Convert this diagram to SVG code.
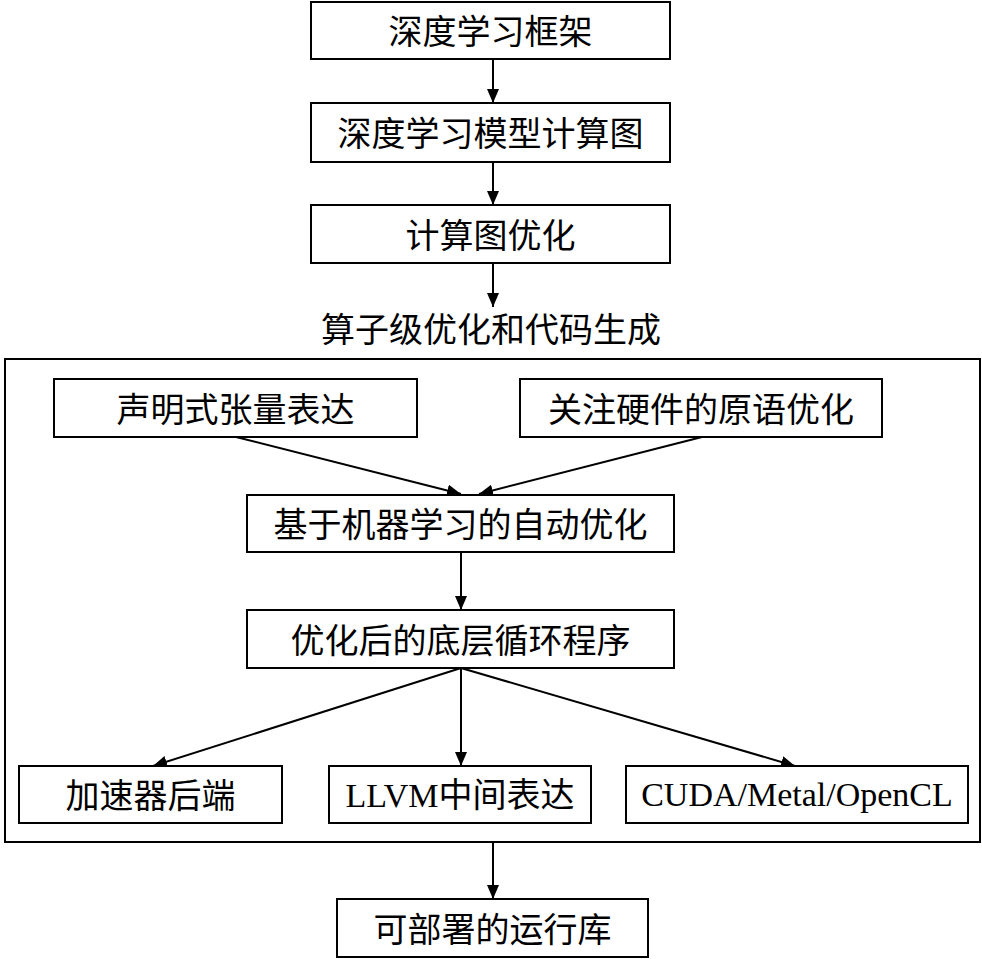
<svg xmlns="http://www.w3.org/2000/svg" width="982" height="959" viewBox="0 0 982 959">
<defs>
<style>
.box{fill:#fff;stroke:#000;stroke-width:2}
.t{font-family:"Liberation Serif","Noto Sans CJK SC",serif;font-size:34px;fill:#000;text-anchor:middle}
.c{stroke:#000;stroke-width:2;fill:none;marker-end:url(#ah)}
</style>
<marker id="ah" markerUnits="userSpaceOnUse" markerWidth="14" markerHeight="12" refX="14" refY="6" orient="auto">
<path d="M0,0 L14,6 L0,12 z" fill="#000"/>
</marker>
</defs>
<rect x="0" y="0" width="982" height="959" fill="#fff"/>
<g id="container"><rect class="box" x="5" y="359" width="975" height="483"/></g>
<g id="title"><text class="t" x="491" y="342">算子级优化和代码生成</text></g>
<g id="connectors">
<line class="c" x1="493" y1="59" x2="493" y2="103"/>
<line class="c" x1="493" y1="162" x2="493" y2="205"/>
<line class="c" x1="493" y1="263" x2="493" y2="307"/>
<line class="c" x1="236" y1="437" x2="461" y2="494"/>
<line class="c" x1="702" y1="437" x2="479" y2="494"/>
<line class="c" x1="461" y1="552" x2="461" y2="610"/>
<line class="c" x1="461" y1="668" x2="153" y2="766"/>
<line class="c" x1="461" y1="668" x2="461" y2="766"/>
<line class="c" x1="461" y1="668" x2="795" y2="766"/>
<line class="c" x1="493" y1="842" x2="493" y2="899"/>
</g>
<g id="n1"><rect class="box" x="311" y="2" width="359" height="57"/><text class="t" x="490.5" y="44">深度学习框架</text></g>
<g id="n2"><rect class="box" x="311" y="103" width="359" height="59"/><text class="t" x="490.5" y="146">深度学习模型计算图</text></g>
<g id="n3"><rect class="box" x="311" y="205" width="359" height="58"/><text class="t" x="490.5" y="248">计算图优化</text></g>
<g id="n4"><rect class="box" x="54" y="379" width="363" height="58"/><text class="t" x="235.5" y="422">声明式张量表达</text></g>
<g id="n5"><rect class="box" x="520" y="379" width="362" height="58"/><text class="t" x="701" y="422">关注硬件的原语优化</text></g>
<g id="n6"><rect class="box" x="247" y="495" width="427" height="57"/><text class="t" x="460.5" y="537">基于机器学习的自动优化</text></g>
<g id="n7"><rect class="box" x="247" y="610" width="427" height="58"/><text class="t" x="460.5" y="653">优化后的底层循环程序</text></g>
<g id="n8"><rect class="box" x="19" y="766" width="263" height="57"/><text class="t" x="150.5" y="808">加速器后端</text></g>
<g id="n9"><rect class="box" x="329" y="766" width="262" height="57"/><text class="t" x="460" y="807">LLVM中间表达</text></g>
<g id="n10"><rect class="box" x="626" y="766" width="342" height="57"/><text class="t" x="797" y="806">CUDA/Metal/OpenCL</text></g>
<g id="n11"><rect class="box" x="337" y="899" width="311" height="58"/><text class="t" x="492.5" y="942">可部署的运行库</text></g>
</svg>
